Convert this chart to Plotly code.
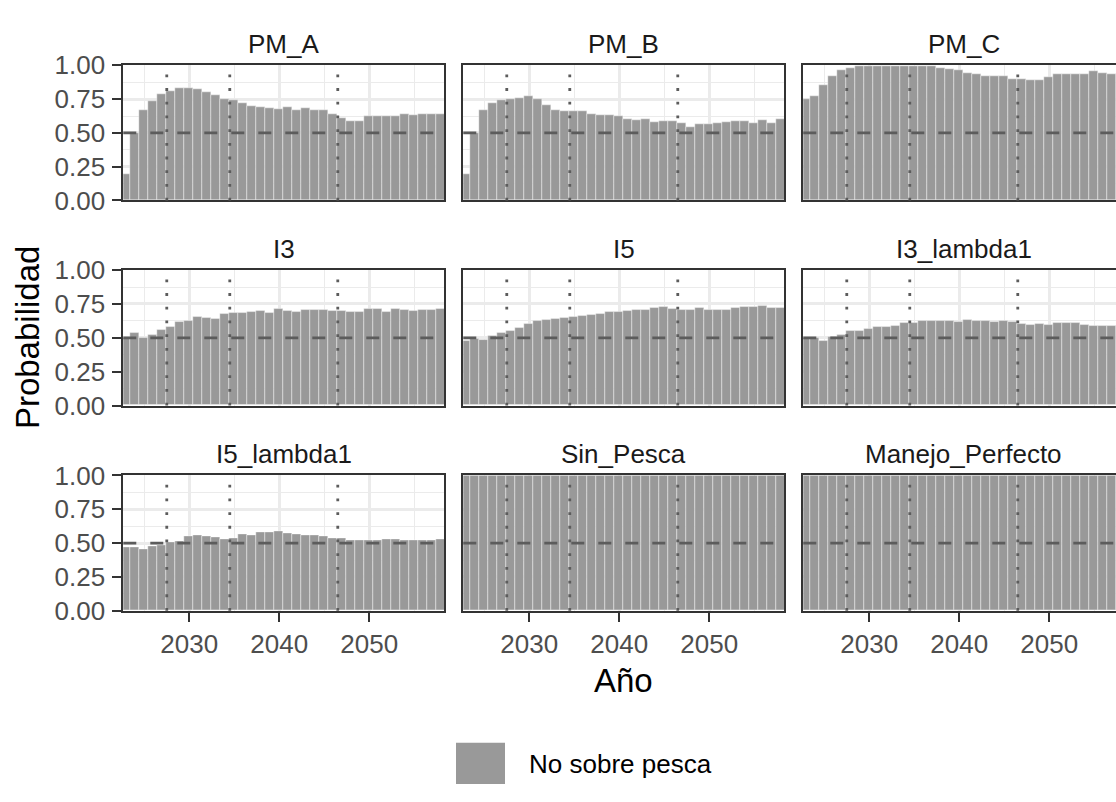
import plotly.graph_objects as go

# Years simulated
years = list(range(2023, 2059))

# Probability of "no overfishing" by management procedure
pm_a = [0.19, 0.50, 0.67, 0.73, 0.786, 0.805, 0.829, 0.833, 0.82, 0.80, 0.78, 0.75,
        0.74, 0.717, 0.70, 0.69, 0.68, 0.676, 0.69, 0.67, 0.68, 0.67, 0.67, 0.64,
        0.61, 0.586, 0.583, 0.626, 0.62, 0.626, 0.626, 0.638, 0.63, 0.64, 0.638, 0.636]
pm_b = [0.19, 0.50, 0.667, 0.72, 0.738, 0.752, 0.757, 0.77, 0.745, 0.705, 0.67, 0.66,
        0.66, 0.657, 0.638, 0.63, 0.633, 0.62, 0.60, 0.593, 0.60, 0.58, 0.588, 0.583,
        0.571, 0.538, 0.562, 0.567, 0.574, 0.58, 0.583, 0.583, 0.57, 0.59, 0.571, 0.598]
pm_c = [0.75, 0.77, 0.852, 0.919, 0.96, 0.98, 0.99, 0.995, 0.995, 0.995, 0.995, 0.995,
        0.995, 0.995, 0.99, 0.98, 0.97, 0.96, 0.943, 0.93, 0.92, 0.917, 0.917, 0.90,
        0.90, 0.886, 0.89, 0.91, 0.93, 0.936, 0.93, 0.93, 0.952, 0.94, 0.935, 0.935]
i3 = [0.495, 0.533, 0.50, 0.52, 0.557, 0.576, 0.614, 0.62, 0.654, 0.642, 0.64, 0.673,
      0.68, 0.685, 0.69, 0.70, 0.685, 0.713, 0.70, 0.692, 0.704, 0.704, 0.708, 0.697,
      0.697, 0.69, 0.692, 0.71, 0.713, 0.692, 0.71, 0.704, 0.70, 0.708, 0.708, 0.713]
i5 = [0.475, 0.488, 0.483, 0.514, 0.533, 0.55, 0.569, 0.60, 0.62, 0.63, 0.635, 0.647,
      0.652, 0.66, 0.668, 0.678, 0.69, 0.692, 0.697, 0.704, 0.708, 0.72, 0.725, 0.71,
      0.704, 0.706, 0.72, 0.708, 0.708, 0.704, 0.718, 0.727, 0.73, 0.732, 0.723, 0.72]
i3_lambda1 = [0.50, 0.498, 0.479, 0.505, 0.517, 0.547, 0.552, 0.566, 0.578, 0.576, 0.583,
              0.609, 0.611, 0.621, 0.626, 0.626, 0.621, 0.616, 0.63, 0.623, 0.621, 0.614,
              0.626, 0.616, 0.602, 0.595, 0.60, 0.595, 0.607, 0.609, 0.607, 0.597, 0.588,
              0.588, 0.588, 0.588]
i5_lambda1 = [0.472, 0.467, 0.453, 0.476, 0.486, 0.502, 0.514, 0.55, 0.557, 0.55, 0.545,
              0.528, 0.538, 0.562, 0.555, 0.576, 0.578, 0.59, 0.569, 0.562, 0.555, 0.559,
              0.547, 0.533, 0.538, 0.519, 0.521, 0.521, 0.519, 0.531, 0.528, 0.521, 0.521,
              0.519, 0.521, 0.528]
sin_pesca = [1.0] * len(years)
manejo_perfecto = [1.0] * len(years)

panel_names = ["PM_A", "PM_B", "PM_C", "I3", "I5", "I3_lambda1",
               "I5_lambda1", "Sin_Pesca", "Manejo_Perfecto"]
panel_values = [pm_a, pm_b, pm_c, i3, i5, i3_lambda1, i5_lambda1, sin_pesca, manejo_perfecto]

# Reference markers
ref_years = [2027.5, 2034.5, 2046.5]
ref_prob = 0.5

x_ticks = [2030, 2040, 2050]
y_ticks = [0, 0.25, 0.5, 0.75, 1.0]
y_ticktext = ["0.00", "0.25", "0.50", "0.75", "1.00"]
legend_label = "No sobre pesca"

W, H = 1116, 802
BAR = "#999999"
BORDER = "#333333"
GRID = "#EBEBEB"
REFLINE = "#5c5c5c"
FONT = "Liberation Sans, Arial, sans-serif"

# panel geometry in pixels
col_px = [(123.3, 444.3), (463.3, 784.3), (803.3, 1116.0)]
row_px = [(52.3, 192.7), (265.0, 405.7), (478.3, 619.0)]
x_lo = 2022.67
px_per_year = 9.0


def px_x(v):
    return v / W


def px_y(v):
    return 1 - v / H


fig = go.Figure()
shapes = []
annotations = []

for k, (name, vals) in enumerate(zip(panel_names, panel_values)):
    r, c = divmod(k, 3)
    idx = k + 1
    sfx = "" if idx == 1 else str(idx)
    xa, ya = "x" + sfx, "y" + sfx

    fig.add_trace(go.Bar(
        x=years, y=vals, width=1.0, xaxis=xa, yaxis=ya,
        marker=dict(color=BAR, line=dict(color="rgba(255,255,255,0.4)", width=1)),
        showlegend=False, hoverinfo="x+y",
    ))

    x0p, x1p = col_px[c]
    y0p, y1p = row_px[r]
    x_hi = x_lo + (x1p - x0p) / px_per_year
    bottom_row = r == 2
    left_col = c == 0

    fig.layout["xaxis" + sfx] = dict(
        domain=[px_x(x0p), px_x(x1p)], anchor=ya, range=[x_lo, x_hi],
        tickvals=x_ticks, showticklabels=bottom_row,
        ticks="outside" if bottom_row else "", ticklen=9, tickwidth=2, tickcolor=BORDER,
        tickfont=dict(size=26, color="#4D4D4D", family=FONT), ticklabelstandoff=0,
        showgrid=True, gridcolor=GRID, gridwidth=2.6,
        minor=dict(tickvals=[2025, 2035, 2045, 2055], showgrid=True,
                   gridcolor=GRID, gridwidth=1.3),
        showline=True, linecolor=BORDER, linewidth=1.8, mirror=True,
        zeroline=False, fixedrange=True,
    )
    fig.layout["yaxis" + sfx] = dict(
        domain=[px_y(y1p), px_y(y0p)], anchor=xa, range=[0, 1],
        tickvals=y_ticks, ticktext=y_ticktext, showticklabels=left_col,
        ticks="outside" if left_col else "", ticklen=9, tickwidth=2, tickcolor=BORDER,
        tickfont=dict(size=26, color="#4D4D4D", family=FONT), ticklabelstandoff=2,
        showgrid=True, gridcolor=GRID, gridwidth=2.6,
        minor=dict(tickvals=[0.125, 0.375, 0.625, 0.875], showgrid=True,
                   gridcolor=GRID, gridwidth=1.3),
        showline=True, linecolor=BORDER, linewidth=1.8, mirror=(c != 2),
        zeroline=False, fixedrange=True,
    )

    for ry in ref_years:
        shapes.append(dict(type="line", xref=xa, yref=ya + " domain",
                           x0=ry, x1=ry, y0=0, y1=1,
                           line=dict(color=REFLINE, width=2.8, dash="2.8px,10.9px")))
    shapes.append(dict(type="line", xref=xa + " domain", yref=ya,
                       x0=0, x1=1, y0=ref_prob, y1=ref_prob,
                       line=dict(color=REFLINE, width=2.8, dash="13px,14px")))

    # facet strip label centred over the full panel width
    full_center = x0p + 321.0 / 2
    annotations.append(dict(text=name, xref="paper", yref="paper",
                            x=px_x(full_center), y=px_y(y0p - 22),
                            xanchor="center", yanchor="middle", showarrow=False,
                            font=dict(size=26, color="#1A1A1A", family=FONT)))

# axis titles
annotations.append(dict(text="Probabilidad", xref="paper", yref="paper",
                        x=px_x(27), y=px_y((row_px[0][0] + row_px[2][1]) / 2),
                        xanchor="center", yanchor="middle", textangle=-90, showarrow=False,
                        font=dict(size=33, color="black", family=FONT)))
annotations.append(dict(text="Año", xref="paper", yref="paper",
                        x=px_x((col_px[1][0] + col_px[1][1]) / 2), y=px_y(691),
                        xanchor="center", yanchor="middle", showarrow=False,
                        font=dict(size=33, color="black", family=FONT)))

# legend key and label
shapes.append(dict(type="rect", xref="paper", yref="paper",
                   x0=px_x(456), x1=px_x(505), y0=px_y(799), y1=px_y(756),
                   fillcolor=BAR, line=dict(width=0)))
annotations.append(dict(text=legend_label, xref="paper", yref="paper",
                        x=px_x(527), y=px_y(778), xanchor="left", yanchor="middle",
                        showarrow=False, font=dict(size=26, color="black", family=FONT)))

fig.update_layout(
    width=W, height=H, margin=dict(l=0, r=0, t=0, b=0),
    paper_bgcolor="white", plot_bgcolor="white",
    bargap=0, barmode="overlay",
    shapes=shapes, annotations=annotations,
    font=dict(family=FONT),
)

fig.write_html("out.html")
